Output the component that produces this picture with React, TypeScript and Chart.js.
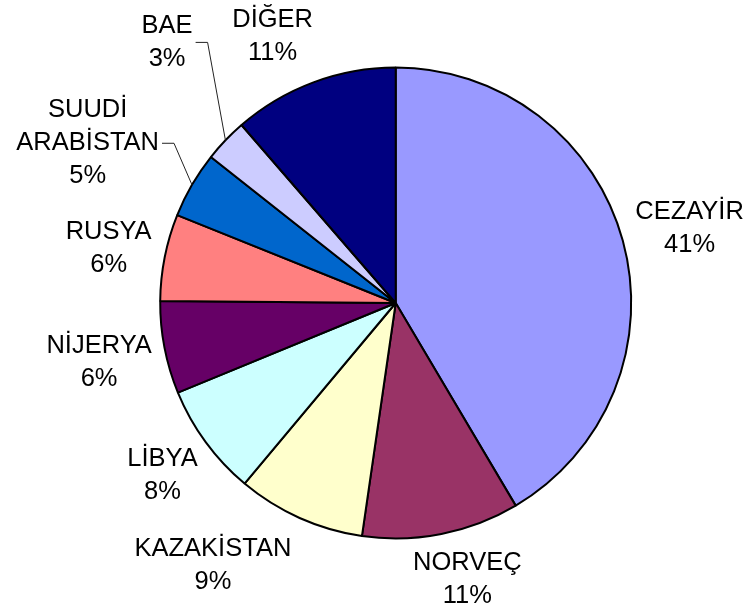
import React, { useEffect, useRef } from 'react';
import { Chart, registerables } from 'chart.js';

Chart.register(...registerables);

// ---- data ----
const categories = ['CEZAYİR', 'NORVEÇ', 'KAZAKİSTAN', 'LİBYA', 'NİJERYA', 'RUSYA', 'SUUDİ ARABİSTAN', 'BAE', 'DİĞER'];
const shares = [41.49, 10.8, 8.8, 7.7, 6.35, 5.95, 4.55, 3.0, 11.36];
const sliceColors = ['#9999FF', '#993366', '#FFFFCC', '#CCFFFF', '#660066', '#FF8080', '#0066CC', '#CCCCFF', '#000080'];

// ---- label layout (labels that were dragged away in the original, px nudges) ----
const labelNudges: Record<string, [number, number]> = {
  'CEZAYİR': [0, 4],
  'NORVEÇ': [17, -1],
  'KAZAKİSTAN': [-60, -14],
  'SUUDİ ARABİSTAN': [-24, 3],
  'BAE': [-25, -68],
  'DİĞER': [-24, -3],
};
const leaderLabels = ['SUUDİ ARABİSTAN', 'BAE'];

const FONT_SIZE = 25.5;
const LINE_H = 33;
const GAP = 10;

const labelPlugin = {
  id: 'outsideLabels',
  afterDatasetsDraw(chart: any) {
    const ctx: CanvasRenderingContext2D = chart.ctx;
    const meta = chart.getDatasetMeta(0);
    const data = chart.data.datasets[0].data as number[];
    const total = data.reduce((a, b) => a + b, 0);
    const capH = FONT_SIZE * 0.716;
    ctx.save();
    ctx.font = `${FONT_SIZE}px "Liberation Sans", Arial, sans-serif`;
    ctx.fillStyle = '#000';
    ctx.textAlign = 'center';
    ctx.textBaseline = 'alphabetic';
    meta.data.forEach((arc: any, i: number) => {
      const { x, y, startAngle, endAngle, outerRadius } = arc.getProps(['x', 'y', 'startAngle', 'endAngle', 'outerRadius'], true);
      const mid = (startAngle + endAngle) / 2;
      const dx = Math.cos(mid);
      const dy = Math.sin(mid);
      const name = String(chart.data.labels[i]);
      const lines = [...name.split(' '), Math.round((data[i] / total) * 100) + '%'];
      const w = Math.max(...lines.map((l) => ctx.measureText(l).width));
      const hh = ((lines.length - 1) * LINE_H) / 2 + capH / 2;
      const dist = outerRadius + GAP + (Math.abs(dx) * w) / 2 + Math.abs(dy) * hh;
      const n = labelNudges[name] || [0, 0];
      const cx = x + dx * dist + n[0];
      const cy = y + dy * dist + n[1];
      lines.forEach((l, k) => {
        const lc = cy - ((lines.length - 1) * LINE_H) / 2 + k * LINE_H;
        ctx.fillText(l, cx, lc + capH / 2);
      });
      if (leaderLabels.includes(name)) {
        const sx = cx + w / 2 + 3;
        const sy = cy + 2;
        ctx.beginPath();
        ctx.moveTo(sx, sy);
        ctx.lineTo(sx + 12, sy);
        ctx.lineTo(x + dx * outerRadius, y + dy * outerRadius);
        ctx.strokeStyle = '#222';
        ctx.lineWidth = 1;
        ctx.stroke();
      }
    });
    ctx.restore();
  },
};

export default function App() {
  const ref = useRef<HTMLCanvasElement>(null);
  useEffect(() => {
    document.body.style.margin = '0';
    const chart = new Chart(ref.current as HTMLCanvasElement, {
      type: 'pie',
      data: {
        labels: categories,
        datasets: [
          {
            data: shares,
            backgroundColor: sliceColors,
            borderColor: '#000',
            borderWidth: 2,
            hoverOffset: 0,
          },
        ],
      },
      options: {
        responsive: false,
        animation: false,
        radius: 235.5,
        events: [],
        layout: { padding: { left: 100, right: 59.6, top: 40, bottom: 49 } },
        plugins: { legend: { display: false }, tooltip: { enabled: false } },
      } as any,
      plugins: [labelPlugin],
    });
    return () => chart.destroy();
  }, []);
  return <canvas ref={ref} width={751} height={615} style={{ display: 'block' }} />;
}
